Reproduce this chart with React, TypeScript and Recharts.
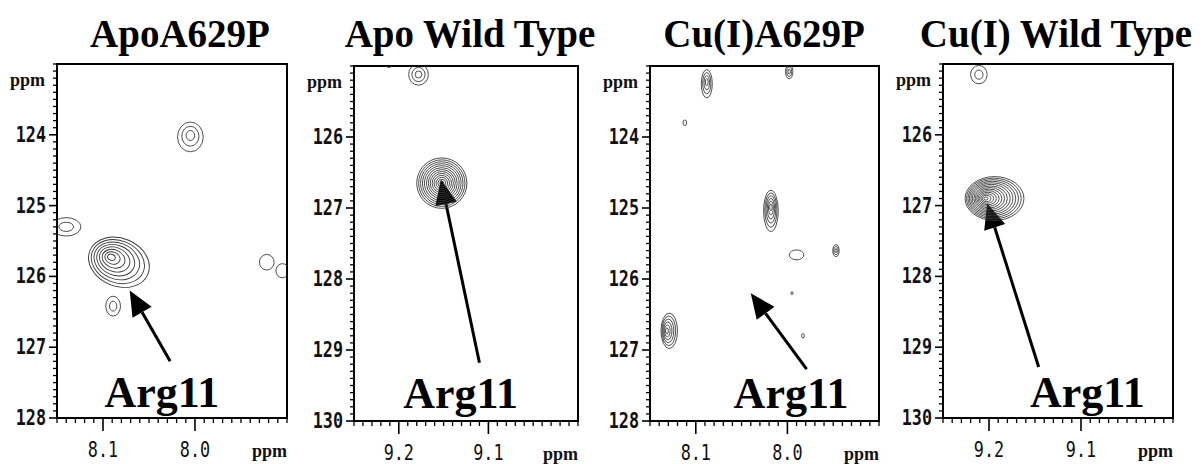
import React from 'react';
import {
  ComposedChart,
  ReferenceArea,
  ReferenceDot,
  ReferenceLine,
  Scatter,
  XAxis,
  YAxis
} from 'recharts';

type Peak = {
  x: number; // 1H ppm
  y: number; // 15N ppm
  wx: number; // half width, 1H ppm
  wy: number; // half width, 15N ppm
  levels: number;
  sx?: number; // outer contour offset, ppm
  sy?: number;
  tilt?: number;
};
type Pt = { x: number; y: number };

const titles = ['ApoA629P', 'Apo Wild Type', 'Cu(I)A629P', 'Cu(I) Wild Type'];
const residue = 'Arg11';
const unit = 'ppm';

// axes
const mutantXDomain = [7.9, 8.15];
const mutantYDomain = [123, 128];
const mutantXTicks = [8.1, 8.0];
const mutantYTicks = [124, 125, 126, 127, 128];
const wildXDomain = [9.0, 9.25];
const wildYDomain = [125, 130];
const wildXTicks = [9.2, 9.1];
const wildYTicks = [126, 127, 128, 129, 130];

// cross peaks
const apoMutantPeaks: Peak[] = [
  { x: 8.005, y: 124.0, wx: 0.014, wy: 0.21, levels: 3, sy: 0.03 },
  { x: 8.14, y: 125.3, wx: 0.016, wy: 0.13, levels: 2 },
  { x: 8.092, y: 125.72, wx: 0.034, wy: 0.34, levels: 8, sx: -0.011, sy: 0.03, tilt: 22 },
  { x: 8.089, y: 126.42, wx: 0.008, wy: 0.14, levels: 2 },
  { x: 7.922, y: 125.8, wx: 0.008, wy: 0.11, levels: 1 },
  { x: 7.905, y: 125.92, wx: 0.007, wy: 0.1, levels: 1 }
];
const apoWildPeaks: Peak[] = [
  { x: 9.152, y: 126.65, wx: 0.028, wy: 0.355, levels: 13 },
  { x: 9.178, y: 125.12, wx: 0.011, wy: 0.15, levels: 3 },
  { x: 9.211, y: 124.98, wx: 0.004, wy: 0.04, levels: 1 }
];
const cuMutantPeaks: Peak[] = [
  { x: 8.088, y: 123.22, wx: 0.006, wy: 0.2, levels: 4, sy: 0.03 },
  { x: 7.998, y: 123.08, wx: 0.004, wy: 0.1, levels: 3 },
  { x: 8.112, y: 123.8, wx: 0.002, wy: 0.04, levels: 1 },
  { x: 8.018, y: 124.98, wx: 0.008, wy: 0.29, levels: 6, sy: 0.06 },
  { x: 7.99, y: 125.66, wx: 0.008, wy: 0.07, levels: 1 },
  { x: 7.947, y: 125.6, wx: 0.0035, wy: 0.085, levels: 3 },
  { x: 8.132, y: 126.73, wx: 0.009, wy: 0.25, levels: 6, sx: -0.003 },
  { x: 7.995, y: 126.2, wx: 0.0012, wy: 0.02, levels: 1 },
  { x: 7.983, y: 126.8, wx: 0.0015, wy: 0.03, levels: 1 }
];
const cuWildPeaks: Peak[] = [
  { x: 9.204, y: 126.9, wx: 0.032, wy: 0.31, levels: 14, sx: -0.01 },
  { x: 9.211, y: 125.15, wx: 0.009, wy: 0.13, levels: 2 }
];

// arrow tail -> tip, and label anchor
const apoMutantArrow: Pt[] = [{ x: 8.027, y: 127.2 }, { x: 8.071, y: 126.2 }];
const apoWildArrow: Pt[] = [{ x: 9.11, y: 129.18 }, { x: 9.153, y: 126.6 }];
const cuMutantArrow: Pt[] = [{ x: 7.979, y: 127.27 }, { x: 8.04, y: 126.2 }];
const cuWildArrow: Pt[] = [{ x: 9.146, y: 129.28 }, { x: 9.202, y: 126.97 }];
const apoMutantLabel: Pt = { x: 8.036, y: 127.85 };
const apoWildLabel: Pt = { x: 9.131, y: 129.81 };
const cuMutantLabel: Pt = { x: 7.996, y: 127.82 };
const cuWildLabel: Pt = { x: 9.093, y: 129.85 };

const panels = [
  { title: titles[0], titleX: 180, xDomain: mutantXDomain, yDomain: mutantYDomain, xTicks: mutantXTicks, yTicks: mutantYTicks,
    peaks: apoMutantPeaks, arrow: apoMutantArrow, label: apoMutantLabel, box: { l: 57, r: 287, t: 64, b: 418 } },
  { title: titles[1], titleX: 470, xDomain: wildXDomain, yDomain: wildYDomain, xTicks: wildXTicks, yTicks: wildYTicks,
    peaks: apoWildPeaks, arrow: apoWildArrow, label: apoWildLabel, box: { l: 354, r: 578, t: 66, b: 421 } },
  { title: titles[2], titleX: 764, xDomain: mutantXDomain, yDomain: mutantYDomain, xTicks: mutantXTicks, yTicks: mutantYTicks,
    peaks: cuMutantPeaks, arrow: cuMutantArrow, label: cuMutantLabel, box: { l: 650, r: 879, t: 66, b: 421 } },
  { title: titles[3], titleX: 1056, xDomain: wildXDomain, yDomain: wildYDomain, xTicks: wildXTicks, yTicks: wildYTicks,
    peaks: cuWildPeaks, arrow: cuWildArrow, label: cuWildLabel, box: { l: 943, r: 1173, t: 64, b: 418 } }
];

const stepTicks = (lo: number, hi: number, step: number) => {
  const out: number[] = [];
  const n = Math.round((hi - lo) / step);
  for (let i = 0; i <= n; i++) out.push(Math.round((lo + i * step) * 1000) / 1000);
  return out;
};
const isMajor = (v: number, majors: number[]) => majors.some((m) => Math.abs(m - v) < 1e-6);

const monoDigits = 'DejaVu Sans Mono';
const serif = '"Liberation Serif", "Times New Roman", serif';

const renderYTick = (props: any, majors: number[]) => {
  const { x, y, payload } = props;
  const major = isMajor(payload.value, majors);
  return (
    <g>
      <line x1={x - (major ? 8 : 4)} x2={x} y1={y} y2={y} stroke="#000" strokeWidth={major ? 1.6 : 1.3} />
      {major && (
        <text transform={`translate(${x - 11},${y + 7}) scale(0.8,1)`} textAnchor="end"
          style={{ fontFamily: monoDigits, fontWeight: 'bold', fontSize: 21 }} fill="#111">
          {payload.value}
        </text>
      )}
    </g>
  );
};

const renderXTick = (props: any, majors: number[]) => {
  const { x, y, payload } = props;
  const major = isMajor(payload.value, majors);
  return (
    <g>
      <line x1={x} x2={x} y1={y} y2={y + (major ? 13 : 5)} stroke="#000" strokeWidth={major ? 1.6 : 1.3} />
      {major && (
        <text transform={`translate(${x},${y + 39}) scale(0.8,1)`} textAnchor="middle"
          style={{ fontFamily: monoDigits, fontSize: 21 }} fill="#111">
          {payload.value.toFixed(1)}
        </text>
      )}
    </g>
  );
};

const contourShape = (pxX: number, pxY: number) => (props: any) => {
  const { cx, cy, payload } = props;
  const p = payload as Peak;
  const rings = [];
  for (let k = 0; k < p.levels; k++) {
    const f = 1 - k / p.levels;
    const ox = -(p.sx ?? 0) * pxX * f;
    const oy = (p.sy ?? 0) * pxY * f;
    rings.push(
      <ellipse
        key={k}
        cx={cx + ox}
        cy={cy + oy}
        rx={p.wx * pxX * f}
        ry={p.wy * pxY * f}
        transform={p.tilt ? `rotate(${p.tilt} ${cx} ${cy})` : undefined}
        fill="none"
        stroke="#3a3a3a"
        strokeWidth={0.9}
      />
    );
  }
  return <g>{rings}</g>;
};

const arrowShape = (props: any) => {
  const { x1, y1, x2, y2 } = props;
  const ang = Math.atan2(y2 - y1, x2 - x1);
  const len = 25;
  const half = 11;
  const bx = x2 - len * Math.cos(ang);
  const by = y2 - len * Math.sin(ang);
  const nx = -Math.sin(ang) * half;
  const ny = Math.cos(ang) * half;
  return (
    <g>
      <line x1={x1} y1={y1} x2={bx} y2={by} stroke="#000" strokeWidth={3} />
      <polygon points={`${x2},${y2} ${bx + nx},${by + ny} ${bx - nx},${by - ny}`} fill="#000" />
    </g>
  );
};

const labelShape = (props: any) => (
  <text x={props.cx} y={props.cy} textAnchor="middle" style={{ fontFamily: serif, fontWeight: 'bold', fontSize: 44 }}
    fill="#000">
    {residue}
  </text>
);

const Panel: React.FC<{ p: (typeof panels)[number] }> = ({ p }) => {
  const { box } = p;
  const left = box.l - 57;
  const width = box.r - box.l + 57 + 30;
  const pxX = (box.r - box.l) / (p.xDomain[1] - p.xDomain[0]);
  const pxY = (box.b - box.t) / (p.yDomain[1] - p.yDomain[0]);
  return (
    <div style={{ position: 'absolute', left, top: 0 }}>
      <ComposedChart width={width} height={464} margin={{ top: box.t, right: 30, left: 7, bottom: 0 }}>
        <XAxis
          type="number"
          dataKey="x"
          domain={p.xDomain}
          reversed
          allowDataOverflow
          ticks={stepTicks(p.xDomain[0], p.xDomain[1], 0.01)}
          interval={0}
          height={464 - box.b}
          tickLine={false}
          tickSize={0}
          tickMargin={0}
          axisLine={{ stroke: '#000', strokeWidth: 2 }}
          tick={(t: any) => renderXTick(t, p.xTicks)}
        />
        <YAxis
          type="number"
          dataKey="y"
          domain={p.yDomain}
          reversed
          allowDataOverflow
          ticks={stepTicks(p.yDomain[0], p.yDomain[1], 0.1)}
          interval={0}
          width={50}
          tickLine={false}
          tickSize={0}
          tickMargin={0}
          axisLine={{ stroke: '#000', strokeWidth: 2 }}
          tick={(t: any) => renderYTick(t, p.yTicks)}
        />
        <ReferenceArea
          x1={p.xDomain[0]}
          x2={p.xDomain[1]}
          y1={p.yDomain[0]}
          y2={p.yDomain[1]}
          fill="none"
          stroke="#000"
          strokeWidth={2}
          ifOverflow="visible"
        />
        <Scatter data={p.peaks} shape={contourShape(pxX, pxY)} isAnimationActive={false} />
        <ReferenceLine segment={p.arrow} shape={arrowShape} ifOverflow="visible" />
        <ReferenceDot x={p.label.x} y={p.label.y} shape={labelShape} ifOverflow="visible" />
      </ComposedChart>
    </div>
  );
};

export default function App() {
  return (
    <div style={{ position: 'absolute', left: 0, top: 0, width: 1202, height: 464, overflow: 'hidden', background: '#fff' }}>
      {panels.map((p) => (
        <Panel key={p.title} p={p} />
      ))}
      <svg width={1202} height={464} style={{ position: 'absolute', left: 0, top: 0, pointerEvents: 'none' }}>
        {panels.map((p) => (
          <g key={p.title}>
            <text x={p.titleX} y={47} textAnchor="middle" style={{ fontFamily: serif, fontWeight: 'bold', fontSize: 39 }}
              fill="#000">
              {p.title}
            </text>
            <text x={p.box.l - 12} y={p.box.t + 22} textAnchor="end"
              style={{ fontFamily: serif, fontWeight: 'bold', fontSize: 18 }} fill="#111">
              {unit}
            </text>
            <text x={p.box.r} y={p.box.b + 39} textAnchor="end"
              style={{ fontFamily: serif, fontWeight: 'bold', fontSize: 18 }} fill="#111">
              {unit}
            </text>
          </g>
        ))}
      </svg>
    </div>
  );
}
